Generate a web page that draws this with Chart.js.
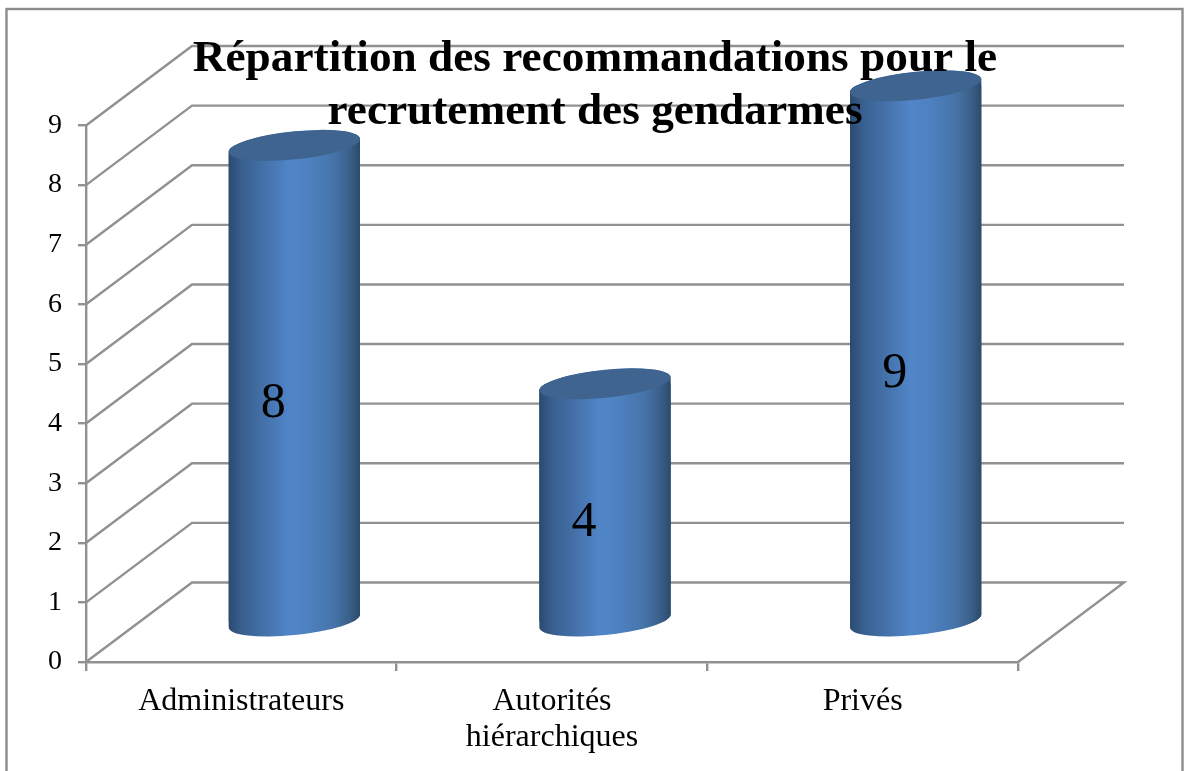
<!DOCTYPE html>
<html lang="fr">
<head>
<meta charset="utf-8">
<title>Répartition des recommandations</title>
<script src="https://cdn.jsdelivr.net/npm/chart.js@4"></script>
<style>
  html, body { margin: 0; padding: 0; background: #fff; overflow: hidden; }
  canvas { display: block; }
</style>
</head>
<body>
<canvas id="chart" width="1184" height="771"></canvas>
<script>
// Data
const TITLE_LINES = ['Répartition des recommandations pour le', 'recrutement des gendarmes'];
const CATEGORIES = ['Administrateurs', ['Autorités', 'hiérarchiques'], 'Privés'];
const VALUES = [8, 4, 9];
const Y_MAX = 9;

const FONT = '"Liberation Serif", "Times New Roman", serif';
const GRID_COLOR = '#919191';
const LINE_WIDTH = 2.4;

// Fake 3D: the back wall sits up and to the right of the axes, bars stand half way in
const DEPTH_X = 106;
const DEPTH_Y = -79.5;
const BAR_WIDTH = 131.5;
const CAP_RX = 66;
const CAP_RY = 14;
const TILT = -5.9 * Math.PI / 180;
// ellipse angle where the tilted cap reaches its rightmost point
const CAP_EDGE = Math.atan(-(CAP_RY * Math.sin(TILT)) / (CAP_RX * Math.cos(TILT)));

function cylinderGradient(ctx, cx) {
  const g = ctx.createLinearGradient(cx - BAR_WIDTH / 2, 0, cx + BAR_WIDTH / 2, 0);
  g.addColorStop(0, '#2b4a6f');
  g.addColorStop(0.1, '#38608f');
  g.addColorStop(0.3, '#4674ae');
  g.addColorStop(0.46, '#5085c8');
  g.addColorStop(0.6, '#4e81c0');
  g.addColorStop(0.8, '#4674aa');
  g.addColorStop(0.92, '#3a6088');
  g.addColorStop(1, '#2b4a6c');
  return g;
}

// outline of the whole cylinder: upper arc of the top cap, lower arc of the base
function addSilhouette(ctx, bar) {
  const t = CAP_EDGE + Math.PI;
  const ex = CAP_RX * Math.cos(t) * Math.cos(TILT) - CAP_RY * Math.sin(t) * Math.sin(TILT);
  const ey = CAP_RX * Math.cos(t) * Math.sin(TILT) + CAP_RY * Math.sin(t) * Math.cos(TILT);
  ctx.moveTo(bar.x + ex, bar.y + ey);
  ctx.ellipse(bar.x, bar.y, CAP_RX, CAP_RY, TILT, t, t + Math.PI);
  ctx.ellipse(bar.x, bar.base, CAP_RX, CAP_RY, TILT, CAP_EDGE, CAP_EDGE + Math.PI);
  ctx.closePath();
}

const scene3d = {
  id: 'scene3d',
  beforeDraw(chart) {
    const { ctx, chartArea: a, scales: { y } } = chart;
    ctx.save();
    // outer frame
    ctx.strokeStyle = '#8c8c8c';
    ctx.lineWidth = LINE_WIDTH;
    ctx.strokeRect(6.5, 9, 1176, 780);
    // side wall, back wall and floor lines
    ctx.strokeStyle = GRID_COLOR;
    y.ticks.forEach(t => {
      const py = y.getPixelForValue(t.value);
      ctx.beginPath();
      ctx.moveTo(a.left, py);
      ctx.lineTo(a.left + DEPTH_X, py + DEPTH_Y);
      ctx.lineTo(a.right + DEPTH_X, py + DEPTH_Y);
      if (t.value === 0) ctx.lineTo(a.right, py);
      ctx.stroke();
    });
    ctx.restore();
  },
  beforeDatasetsDraw(chart) {
    const { ctx } = chart;
    const bars = chart.getDatasetMeta(0).data;
    ctx.save();
    ctx.translate(DEPTH_X / 2, DEPTH_Y / 2);
    bars.forEach(bar => {
      ctx.beginPath();
      addSilhouette(ctx, bar);
      ctx.fillStyle = cylinderGradient(ctx, bar.x);
      ctx.fill();
    });
    // square bar ends must not poke out of the rounded outline
    ctx.beginPath();
    bars.forEach(bar => addSilhouette(ctx, bar));
    ctx.clip();
  },
  afterDatasetsDraw(chart) {
    const { ctx, scales: { x, y } } = chart;
    chart.getDatasetMeta(0).data.forEach(bar => {
      ctx.beginPath();
      ctx.ellipse(bar.x, bar.y, CAP_RX, CAP_RY, TILT, 0, Math.PI * 2);
      ctx.fillStyle = '#3f648f';
      ctx.fill();
    });
    ctx.restore();

    ctx.save();
    ctx.fillStyle = '#000';
    ctx.textAlign = 'center';
    ctx.textBaseline = 'middle';
    // value labels
    ctx.font = '50px ' + FONT;
    VALUES.forEach((v, i) => {
      ctx.fillText(String(v), x.getPixelForValue(i) + 32, y.getPixelForValue(v / 2) - 20);
    });
    // the title overlaps the plot, so it is drawn on top rather than laid out
    ctx.textBaseline = 'alphabetic';
    ctx.font = 'bold 45.3px ' + FONT;
    TITLE_LINES.forEach((line, i) => ctx.fillText(line, 595, 71 + i * 52.5));
    ctx.restore();
  }
};

new Chart(document.getElementById('chart'), {
  type: 'bar',
  data: {
    labels: CATEGORIES,
    datasets: [{
      data: VALUES,
      barThickness: BAR_WIDTH,
      borderWidth: 0,
      clip: false,
      backgroundColor: c => {
        if (!c.chart.chartArea) return '#4f81bd';
        return cylinderGradient(c.chart.ctx, c.chart.scales.x.getPixelForValue(c.dataIndex));
      }
    }]
  },
  plugins: [scene3d],
  options: {
    responsive: false,
    animation: false,
    devicePixelRatio: 1,
    layout: { padding: { left: 26, top: 125.5, right: 166, bottom: 0 } },
    plugins: {
      legend: { display: false },
      title: { display: false },
      tooltip: { enabled: false }
    },
    scales: {
      x: {
        afterFit: s => { s.height = 109; },
        border: { color: GRID_COLOR, width: LINE_WIDTH },
        grid: { drawOnChartArea: false, color: GRID_COLOR, lineWidth: LINE_WIDTH, tickLength: 9 },
        ticks: {
          color: '#000',
          padding: 13,
          maxRotation: 0,
          font: { family: FONT, size: 32, lineHeight: 1.125 }
        }
      },
      y: {
        min: 0,
        max: Y_MAX,
        afterFit: s => { s.width = 60; },
        border: { color: GRID_COLOR, width: LINE_WIDTH },
        grid: { drawOnChartArea: false, color: GRID_COLOR, lineWidth: LINE_WIDTH, tickLength: 8 },
        ticks: {
          stepSize: 1,
          color: '#000',
          padding: 16,
          font: { family: FONT, size: 28 }
        }
      }
    }
  }
});
</script>
</body>
</html>
